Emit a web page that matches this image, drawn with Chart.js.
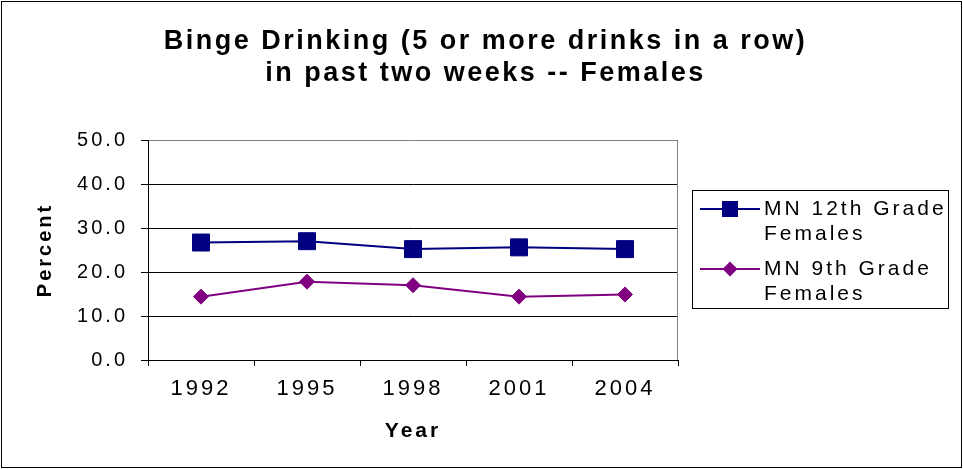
<!DOCTYPE html>
<html><head><meta charset="utf-8">
<script src="https://cdn.jsdelivr.net/npm/chart.js@4.4.0/dist/chart.umd.min.js"></script>
<style>html,body{margin:0;padding:0;background:#fff;} #wrap{width:963px;height:469px;position:relative;}</style>
</head><body><div id="wrap"><canvas id="c" width="963" height="469"></canvas></div>
<script>
const years = ['1992', '1995', '1998', '2001', '2004'];
const grade12 = [26.7, 27.0, 25.2, 25.6, 25.2];
const grade9 = [14.4, 17.8, 17.0, 14.4, 14.9];
const yTicks = [0, 10, 20, 30, 40, 50];
const titleLines = ['Binge Drinking (5 or more drinks in a row)', 'in past two weeks -- Females'];
const legendLabels = [['MN 12th Grade', 'Females'], ['MN 9th Grade', 'Females']];
const xTitle = 'Year';
const yTitle = 'Percent';

const FAM = "'Liberation Sans', Arial, sans-serif";
const TICK_LS = '3px';

const decor = {
  id: 'decor',
  beforeInit(chart) { chart.ctx.letterSpacing = TICK_LS; },
  beforeUpdate(chart) { chart.ctx.letterSpacing = TICK_LS; },
  beforeDraw(chart) {
    const ctx = chart.ctx;
    ctx.save();
    ctx.fillStyle = '#fff';
    ctx.fillRect(0, 0, chart.width, chart.height);
    ctx.restore();
    ctx.letterSpacing = TICK_LS;
  },
  afterDraw(chart) {
    const ctx = chart.ctx;
    const a = chart.chartArea;
    ctx.save();
    // plot area right border (gray)
    ctx.strokeStyle = '#808080';
    ctx.lineWidth = 1;
    ctx.beginPath();
    ctx.moveTo(Math.round(a.right) - 0.5, a.top);
    ctx.lineTo(Math.round(a.right) - 0.5, a.bottom);
    ctx.stroke();
    // outer border
    ctx.strokeStyle = '#000';
    ctx.strokeRect(1.5, 1.5, chart.width - 3, chart.height - 3);
    // title
    ctx.fillStyle = '#000';
    ctx.letterSpacing = '2.5px';
    ctx.font = 'bold 27px ' + FAM;
    ctx.textAlign = 'center';
    ctx.textBaseline = 'middle';
    titleLines.forEach((t, i) => ctx.fillText(t, chart.width / 2 + 4, 42 + i * 32));
    // legend
    ctx.letterSpacing = '3px';
    const lx = 692, ly = 190, lw = 256, lh = 118;
    ctx.strokeStyle = '#000';
    ctx.lineWidth = 1;
    ctx.strokeRect(lx + 0.5, ly + 0.5, lw, lh);
    ctx.font = '21px ' + FAM;
    ctx.textAlign = 'left';
    chart.data.datasets.forEach((ds, i) => {
      const y0 = 209 + i * 60;
      ctx.strokeStyle = ds.borderColor;
      ctx.lineWidth = 2;
      ctx.beginPath();
      ctx.moveTo(700, y0);
      ctx.lineTo(760, y0);
      ctx.stroke();
      ctx.fillStyle = ds.backgroundColor;
      ctx.beginPath();
      if (ds.pointStyle === 'rect') {
        ctx.rect(730 - 8, y0 - 8, 16, 16);
      } else {
        ctx.moveTo(730, y0 - 7.5); ctx.lineTo(737.5, y0); ctx.lineTo(730, y0 + 7.5); ctx.lineTo(722.5, y0); ctx.closePath();
      }
      ctx.fill();
      ctx.fillStyle = '#000';
      legendLabels[i].forEach((t, j) => ctx.fillText(t, 764, y0 + j * 25));
    });
    ctx.restore();
    ctx.letterSpacing = TICK_LS;
  }
};

new Chart(document.getElementById('c'), {
  type: 'line',
  data: {
    labels: years,
    datasets: [
      { label: 'MN 12th Grade Females', data: grade12, borderColor: '#000080', backgroundColor: '#000080',
        borderWidth: 2, pointStyle: 'rect', pointRadius: 12, pointBorderWidth: 1, pointBorderColor: '#000080', tension: 0 },
      { label: 'MN 9th Grade Females', data: grade9, borderColor: '#800080', backgroundColor: '#800080',
        borderWidth: 2, pointStyle: 'rectRot', pointRadius: 7.5, pointBorderWidth: 1, pointBorderColor: '#800080', tension: 0 }
    ]
  },
  options: {
    responsive: false, animation: false, devicePixelRatio: 1,
    layout: { padding: { left: 0, right: 285, top: 140, bottom: 0 } },
    plugins: { legend: { display: false }, title: { display: false }, tooltip: { enabled: false } },
    scales: {
      x: {
        type: 'category', offset: true,
        grid: { offset: true, drawOnChartArea: false, drawTicks: true, tickLength: 6, color: '#000' },
        border: { color: '#000', width: 1 },
        ticks: { color: '#000', font: { family: FAM, size: 22 }, padding: 10, maxRotation: 0 },
        title: { display: true, text: xTitle, color: '#000', font: { family: FAM, size: 21, weight: 'bold' }, padding: { top: 0, bottom: 25 } },
        afterFit: s => { s.height = 109; }
      },
      y: {
        min: 0, max: 50,
        afterBuildTicks: s => { s.ticks = yTicks.map(v => ({ value: v })); },
        ticks: { color: '#000', font: { family: FAM, size: 20 }, padding: 13, callback: v => Number(v).toFixed(1) },
        grid: { color: c => (c.tick && c.tick.value === 50) ? '#808080' : '#000', tickColor: '#000', tickLength: 7, lineWidth: 1 },
        border: { color: '#000', width: 1 },
        title: { display: true, text: yTitle, color: '#000', font: { family: FAM, size: 20, weight: 'bold' }, padding: { top: 33, bottom: 0 } },
        afterFit: s => { s.width = 148; }
      }
    }
  },
  plugins: [decor]
});
</script>
</body></html>
